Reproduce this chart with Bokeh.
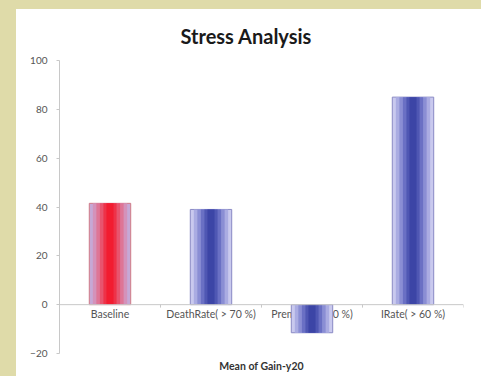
from bokeh.plotting import figure
from bokeh.models import ColumnDataSource, Range1d, Span, FixedTicker
from bokeh.layouts import column
from bokeh.embed import file_html
from bokeh.resources import INLINE
from bokeh.core.properties import value

title = "Stress Analysis"
x_title = "Mean of Gain-y20"
categories = ["Baseline", "DeathRate( > 70 %)", "Premium( < 10 %)", "IRate( > 60 %)"]
values = [41.5, 39.0, -11.5, 85.0]
y_ticks = [-20, 0, 20, 40, 60, 80, 100]

xs = [i + 0.5 for i in range(len(categories))]

p = figure(width=465, height=367, output_backend="svg", toolbar_location=None,
           x_range=Range1d(0, 4), y_range=Range1d(-20, 100),
           min_border_left=43, min_border_right=18, min_border_top=49, min_border_bottom=23,
           title=title)
p.styles = {"background-color": "white"}
p.background_fill_color = "white"
p.border_fill_color = "white"
p.outline_line_color = None
p.grid.visible = False

p.title.align = "left"
p.title.text_font = "Lato"
p.title.text_font_size = "20px"
p.title.text_font_style = "bold"
p.title.text_color = "#1a1a1a"
p.title.offset = 121
p.title.standoff = 25

p.xaxis.axis_label = x_title
p.xaxis.axis_label_text_font = "Lato"
p.xaxis.axis_label_text_font_style = "bold"
p.xaxis.axis_label_text_font_size = "10.5px"
p.xaxis.axis_label_text_color = "#333333"
p.xaxis.axis_label_standoff = 0
p.xaxis.major_label_text_font_size = "0px"
p.xaxis.major_tick_line_color = None
p.xaxis.minor_tick_line_color = None
p.xaxis.axis_line_color = None

p.yaxis.ticker = FixedTicker(ticks=y_ticks)
p.yaxis.axis_line_color = "#c8c8c8"
p.yaxis.major_tick_line_color = "#c8c8c8"
p.yaxis.major_tick_in = 0
p.yaxis.major_tick_out = 3
p.yaxis.minor_tick_line_color = None
p.yaxis.major_label_text_font = "Lato"
p.yaxis.major_label_text_font_size = "10px"
p.yaxis.major_label_text_color = "#555555"
p.yaxis.major_label_standoff = 9

# zero line
p.add_layout(Span(location=0, dimension="width", line_color="#c8c8c8", line_width=1))
# x ticks at category boundaries
bounds = list(range(len(categories) + 1))
p.segment(x0=bounds, y0=[0] * len(bounds), x1=bounds, y1=[-1.2] * len(bounds),
          line_color="#c8c8c8", line_width=1)

# category labels (drawn under bars)
p.text(x=xs, y=[-4.0] * len(xs), text=categories, text_align="center",
       text_baseline="middle", text_font=value("Lato"), text_font_size="10.5px",
       text_color="#555555")

blue = ["#c9c9ee", "#aaace2", "#8a8ed4", "#6a70c4", "#4f57b3", "#3c45a6"]
red = ["#c6a8d6", "#d492ba", "#de7596", "#e8546e", "#ee3248", "#f21c30"]
widths = [0.41, 0.34, 0.27, 0.20, 0.13, 0.07]

for k, w in enumerate(widths):
    cols = [red[k] if c == "Baseline" else blue[k] for c in categories]
    src = ColumnDataSource(dict(x=xs, top=values, color=cols))
    if k == 0:
        lc = ["#d07a86" if c == "Baseline" else "#8a8ac4" for c in categories]
        src.data["lc"] = lc
        p.vbar(x="x", top="top", bottom=0, width=w, source=src,
               fill_color="color", line_color="lc", line_width=1)
    else:
        p.vbar(x="x", top="top", bottom=0, width=w, source=src,
               fill_color="color", line_color=None)

layout = column(p, styles={"background-color": "#dfdba9",
                           "padding": "9px 0px 0px 16px"})
open("out.html", "w").write(file_html(layout, INLINE))
